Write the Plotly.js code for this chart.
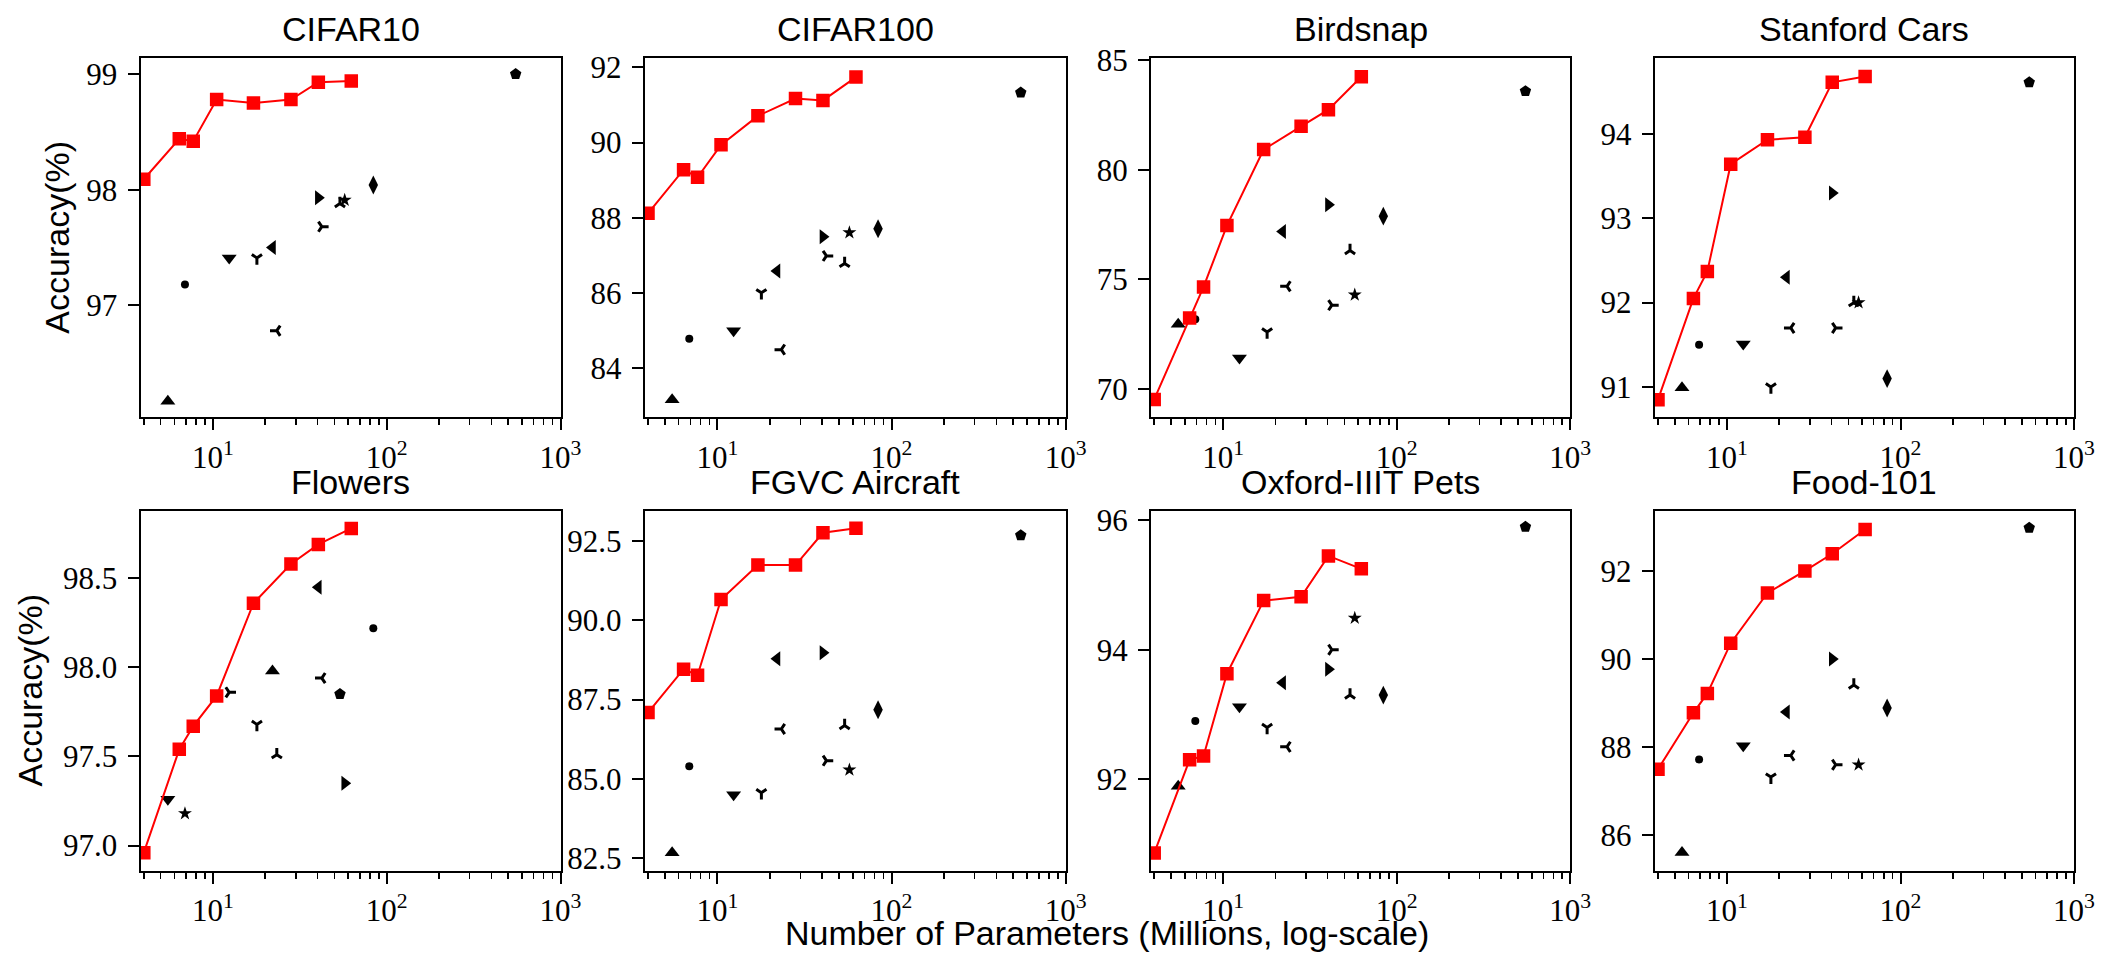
<!DOCTYPE html>
<html><head><meta charset="utf-8">
<script src="https://cdn.plot.ly/plotly-3.0.1.min.js"></script>
<style>html,body{margin:0;padding:0;background:#fff}</style>
</head><body><div id="chart" style="width:2102px;height:955px"></div>
<script>
// ---------------- DATA ----------------
const datasetNames = ['CIFAR10', 'CIFAR100', 'Birdsnap', 'Stanford Cars', 'Flowers', 'FGVC Aircraft', 'Oxford-IIIT Pets', 'Food-101'];

// red series: parameters (millions)
const oursParams = [4.0, 6.4, 7.7, 10.5, 17.1, 28.1, 40.4, 62.5];
// black baselines: parameters (millions)
const baselineParams = [5.5, 6.9, 12.4, 17.9, 22.0, 23.3, 40.4, 42.3, 53.8, 57.3, 83.7, 552];
const flowersBaselineParams = [5.5, 6.9, 12.4, 17.9, 22.0, 23.3, 40.4, 42.3, 53.8, 57.3, 83.7];

const oursCIFAR10 = [98.09, 98.44, 98.42, 98.78, 98.75, 98.78, 98.93, 98.94];
const oursCIFAR100 = [88.12, 89.28, 89.08, 89.94, 90.71, 91.17, 91.12, 91.74];
const oursBirdsnap = [69.52, 73.23, 74.65, 77.45, 80.92, 81.98, 82.74, 84.24];
const oursCars = [90.85, 92.05, 92.37, 93.64, 93.93, 93.96, 94.61, 94.68];
const oursFlowers = [96.96, 97.54, 97.67, 97.84, 98.36, 98.58, 98.69, 98.78];
const oursAircraft = [87.09, 88.46, 88.27, 90.66, 91.75, 91.75, 92.77, 92.91];
const oursPets = [90.86, 92.30, 92.36, 93.63, 94.76, 94.82, 95.45, 95.25];
const oursFood = [87.50, 88.78, 89.22, 90.36, 91.50, 92.00, 92.39, 92.94];

const baseCIFAR10 = [96.17, 97.18, 97.41, 97.41, 97.50, 96.78, 97.93, 97.68, 97.88, 97.91, 98.04, 99.00];
const baseCIFAR100 = [83.17, 84.79, 85.00, 86.01, 86.59, 84.50, 87.50, 86.99, 86.79, 87.61, 87.71, 91.33];
const baseBirdsnap = [72.95, 73.18, 71.41, 72.60, 77.18, 74.68, 78.40, 73.82, 76.31, 74.29, 77.88, 83.58];
const baseCars = [90.99, 91.50, 91.51, 91.00, 92.30, 91.70, 93.30, 91.70, 92.00, 92.00, 91.10, 94.61];
const baseFlowers = [97.26, 97.18, 97.86, 97.68, 97.98, 97.51, 98.45, 97.94, 97.85, 97.35, 98.22];
const baseAircraft = [82.66, 85.39, 84.49, 84.56, 88.79, 86.57, 88.98, 85.57, 86.68, 85.28, 87.18, 92.69];
const basePets = [91.89, 92.90, 93.12, 92.80, 93.49, 92.50, 93.70, 94.00, 93.30, 94.49, 93.30, 95.90];
const baseFood = [85.61, 87.72, 88.03, 87.32, 88.80, 87.81, 90.00, 87.60, 89.41, 87.60, 88.89, 92.98];

const xTickVals = [10, 100, 1000];
const xTickText = ['10<sup>1</sup>', '10<sup>2</sup>', '10<sup>3</sup>'];
const yTitle = 'Accuracy(%)';
const xTitle = 'Number of Parameters (Millions, log-scale)';

// ---------------- STYLE ----------------
const defaultSymbols = ['triangle-up', 'circle', 'triangle-down', 'y-down', 'triangle-left', 'y-left', 'triangle-right', 'y-right', 'y-up', 'star', 'diamond-tall', 'pentagon'];
const flowersSymbols = ['triangle-down', 'star', 'y-right', 'y-down', 'triangle-up', 'y-up', 'triangle-left', 'y-left', 'pentagon', 'triangle-right', 'circle'];
const symbolSize = {'triangle-up': 13, 'triangle-down': 13, 'triangle-left': 13, 'triangle-right': 13,
  'circle': 8, 'y-up': 8.5, 'y-down': 8.5, 'y-left': 8.5, 'y-right': 8.5, 'star': 10.5, 'diamond-tall': 13.5, 'pentagon': 12};

const panels = [
  {ours: oursCIFAR10, base: baseCIFAR10, bx: baselineParams, sym: defaultSymbols, range: [96.03, 99.14], dtick: 1, fmt: 'd'},
  {ours: oursCIFAR100, base: baseCIFAR100, bx: baselineParams, sym: defaultSymbols, range: [82.7, 92.25], dtick: 2, fmt: 'd'},
  {ours: oursBirdsnap, base: baseBirdsnap, bx: baselineParams, sym: defaultSymbols, range: [68.7, 85.1], dtick: 5, fmt: 'd'},
  {ours: oursCars, base: baseCars, bx: baselineParams, sym: defaultSymbols, range: [90.64, 94.9], dtick: 1, fmt: 'd'},
  {ours: oursFlowers, base: baseFlowers, bx: flowersBaselineParams, sym: flowersSymbols, range: [96.86, 98.88], dtick: 0.5, fmt: '.1f'},
  {ours: oursAircraft, base: baseAircraft, bx: baselineParams, sym: defaultSymbols, range: [82.1, 93.47], dtick: 2.5, fmt: '.1f'},
  {ours: oursPets, base: basePets, bx: baselineParams, sym: defaultSymbols, range: [90.59, 96.15], dtick: 2, fmt: 'd'},
  {ours: oursFood, base: baseFood, bx: baselineParams, sym: defaultSymbols, range: [85.2, 93.37], dtick: 2, fmt: 'd'}
];

const W = 2102, H = 955;
const colPx = [[140.5, 560.6], [644.7, 1065.8], [1150.9, 1570.3], [1654.7, 2074.1]];
const rowPx = [[57.9, 417.4], [510.6, 870.5]];
const colDomains = colPx.map(c => [c[0] / W, c[1] / W]);
const rowDomains = rowPx.map(r => [1 - r[1] / H, 1 - r[0] / H]);

const minorVals = [];
[1, 10, 100].forEach(d => { for (let k = 2; k <= 9; k++) minorVals.push(k * d); });

const sansFont = 'Liberation Sans, Arial, sans-serif';
const serifFont = 'Liberation Serif, Times New Roman, serif';

const traces = [];
const layout = {
  width: W, height: H, margin: {l: 0, r: 0, t: 0, b: 0},
  paper_bgcolor: '#ffffff', plot_bgcolor: '#ffffff', showlegend: false,
  annotations: []
};

panels.forEach((p, i) => {
  const col = i % 4, row = Math.floor(i / 4);
  const sfx = i === 0 ? '' : String(i + 1);
  const xa = 'x' + sfx, ya = 'y' + sfx;

  traces.push({
    type: 'scatter', mode: 'markers', x: p.bx, y: p.base, xaxis: xa, yaxis: ya,
    marker: {
      symbol: p.sym, color: '#000000', opacity: 1,
      size: p.sym.map(s => symbolSize[s]),
      line: {color: '#000000', width: p.sym.map(s => s.startsWith('y-') ? 3 : 0)}
    },
    hoverinfo: 'x+y'
  });
  traces.push({
    type: 'scatter', mode: 'lines+markers', x: oursParams, y: p.ours, xaxis: xa, yaxis: ya,
    line: {color: '#ff0000', width: 2},
    marker: {symbol: 'square', color: '#ff0000', size: 13.5, line: {width: 0}},
    hoverinfo: 'x+y'
  });

  layout['xaxis' + sfx] = {
    type: 'log', domain: colDomains[col], anchor: ya, range: [0.583, 3.0005],
    tickmode: 'array', tickvals: xTickVals, ticktext: xTickText,
    ticks: 'outside', ticklen: 11, tickwidth: 2, tickcolor: '#000',
    minor: {tickmode: 'array', tickvals: minorVals, ticks: 'outside', ticklen: 6, tickwidth: 1.6, tickcolor: '#000', showgrid: false},
    showline: true, linecolor: '#000', linewidth: 2, mirror: true,
    showgrid: false, zeroline: false,
    tickfont: {family: serifFont, size: 31, color: '#000'},
    ticklabelstandoff: 0
  };
  layout['yaxis' + sfx] = {
    domain: rowDomains[row], anchor: xa, range: p.range,
    tickmode: 'linear', tick0: 0, dtick: p.dtick, tickformat: p.fmt,
    ticks: 'outside', ticklen: 11, tickwidth: 2, tickcolor: '#000',
    showline: true, linecolor: '#000', linewidth: 2, mirror: true,
    showgrid: false, zeroline: false,
    tickfont: {family: serifFont, size: 31, color: '#000'},
    ticklabelstandoff: 4
  };

  layout.annotations.push({
    text: datasetNames[i], xref: 'paper', yref: 'paper',
    x: (colDomains[col][0] + colDomains[col][1]) / 2, y: rowDomains[row][1],
    xanchor: 'center', yanchor: 'bottom', yshift: 8, showarrow: false,
    font: {family: sansFont, size: 34, color: '#000'}
  });
  if (col === 0) {
    layout.annotations.push({
      text: yTitle, xref: 'paper', yref: 'paper', textangle: -90,
      x: (row === 0 ? 57 : 30) / W, y: (rowDomains[row][0] + rowDomains[row][1]) / 2,
      xanchor: 'center', yanchor: 'middle', showarrow: false,
      font: {family: sansFont, size: 34, color: '#000'}
    });
  }
});

layout.annotations.push({
  text: xTitle, xref: 'paper', yref: 'paper',
  x: 1107 / W, y: 1 - 933 / H, xanchor: 'center', yanchor: 'middle', showarrow: false,
  font: {family: sansFont, size: 34, color: '#000'}
});

Plotly.newPlot('chart', traces, layout, {displayModeBar: false, staticPlot: true});
</script>
</body></html>
